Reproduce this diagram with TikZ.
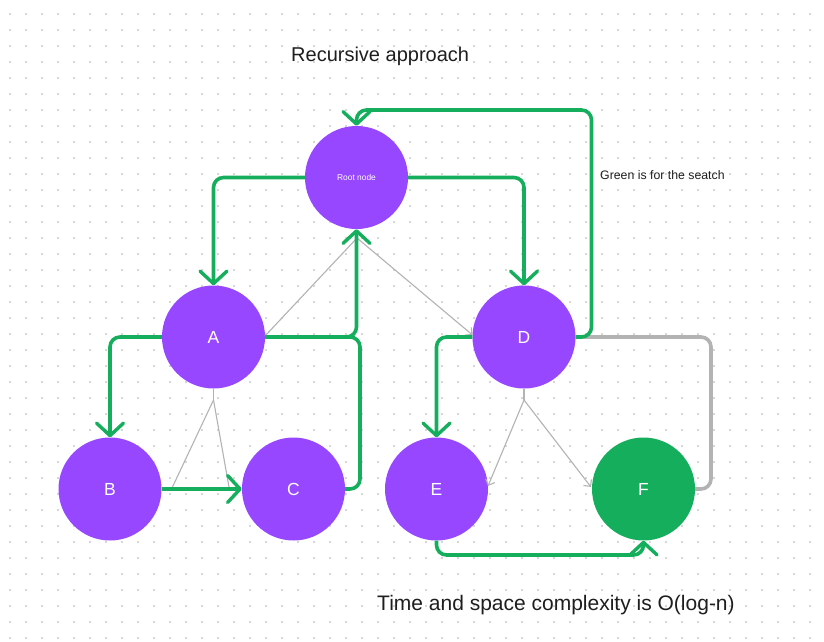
\documentclass[tikz,border=0pt]{standalone}
\usepackage{fontspec}
\setmainfont{Liberation Sans}
\usetikzlibrary{arrows.meta}
\definecolor{fpurple}{HTML}{9747FF}
\definecolor{fgreen}{HTML}{14AE5C}
\definecolor{fgray}{HTML}{B3B3B3}
\definecolor{ftext}{HTML}{1E1E1E}
\definecolor{fdot}{HTML}{D6D6D6}
\tikzset{
  vertex/.style={circle, fill=fpurple, minimum size=103pt, inner sep=0pt, text=white, font=\fontsize{17.5pt}{17pt}\selectfont},
  found/.style={vertex, fill=fgreen},
  search/.style={draw=fgreen, line width=3.6pt, rounded corners=10pt, -{Straight Barb[length=12.5pt,width=27pt,line width=3.4pt,round]}},
  searchnotip/.style={draw=fgreen, line width=3.6pt, rounded corners=10pt},
  thinlink/.style={draw=fgray, line width=1.1pt},
  thinarrow/.style={thinlink, -{Straight Barb[length=5pt,width=10pt,line width=1.1pt]}},
  thicklink/.style={draw=fgray, line width=3.6pt, rounded corners=10pt},
  label/.style={text=ftext, inner sep=0pt}
}
\begin{document}
\begin{tikzpicture}[x=1pt,y=-1pt]
\fill[white] (0,0) rectangle (824,642);
\useasboundingbox (0,0) rectangle (824,642);
% dot grid
\foreach \i in {0,...,50} {
  \foreach \j in {0,...,39} {
    \fill[fdot] ({10+16*\i-0.65},{14+16*\j-0.65}) rectangle ++(1.3,1.3);
  }
}
% nodes
\node[vertex] (root) at (356.5,177.5) {\fontsize{8.4pt}{8pt}\selectfont Root node};
\node[vertex] (A) at (213.5,337) {A};
\node[vertex] (B) at (110,489) {B};
\node[vertex] (C) at (293.5,489) {C};
\node[vertex] (D) at (524,337) {D};
\node[vertex] (E) at (436.5,489) {E};
\node[found] (F) at (643.5,489) {F};
% helper coordinates
\coordinate (rs) at (357,238);
\coordinate (as) at (213.5,400);
\coordinate (ds) at (524,400);
\coordinate (dA) at (265,336);
\coordinate (dD) at (472.5,335);
\coordinate (bB) at (172,488);
\coordinate (bC) at (229,487);
\coordinate (eE) at (488,486);
\coordinate (fF) at (591,487);
% thin gray connectors
\draw[thinlink] (rs) -- (dA);
\draw[thinarrow] (rs) -- (dD);
\draw[thinlink] (A.south) -- (as);
\draw[thinlink] (as) -- (bB);
\draw[thinlink] (as) -- (bC);
\draw[thinlink] (D.south) -- (ds);
\draw[thinarrow] (ds) -- (eE);
\draw[thinarrow] (ds) -- (fF);
% thick gray D -> F
\draw[thicklink] (D.east) -- (711,337) -- (711,489) -- (F.east);
% green search connectors
\draw[search] (root.west) -- (213.5,177.5) -- (A.north);
\draw[search] (root.east) -- (524,177.5) -- (D.north);
\draw[search] (A.west) -- (110,337) -- (B.north);
\draw[search] (B.east) -- (C.west);
\draw[searchnotip] (C.east) -- (360,489) -- (360,337) -- (A.east);
\draw[search] (A.east) -- (356.5,337) -- (root.south);
\draw[search] (D.east) -- (591.5,337) -- (591.5,110) -- (356.5,110) -- (root.north);
\draw[search] (D.west) -- (436.5,337) -- (E.north);
\draw[search] (E.south) -- (436.5,555) -- (643.5,555) -- (F.south);
% texts
\node[label, anchor=base west, font=\fontsize{20pt}{20pt}\selectfont] (title) at (291,62) {Recursive approach};
\node[label, anchor=base west, font=\fontsize{12.3pt}{12pt}\selectfont] (note) at (600,179) {Green is for the seatch};
\node[label, anchor=base west, font=\fontsize{21pt}{21pt}\selectfont] (cplx) at (377,610) {Time and space complexity is O(log-n)};
\end{tikzpicture}
\end{document}
